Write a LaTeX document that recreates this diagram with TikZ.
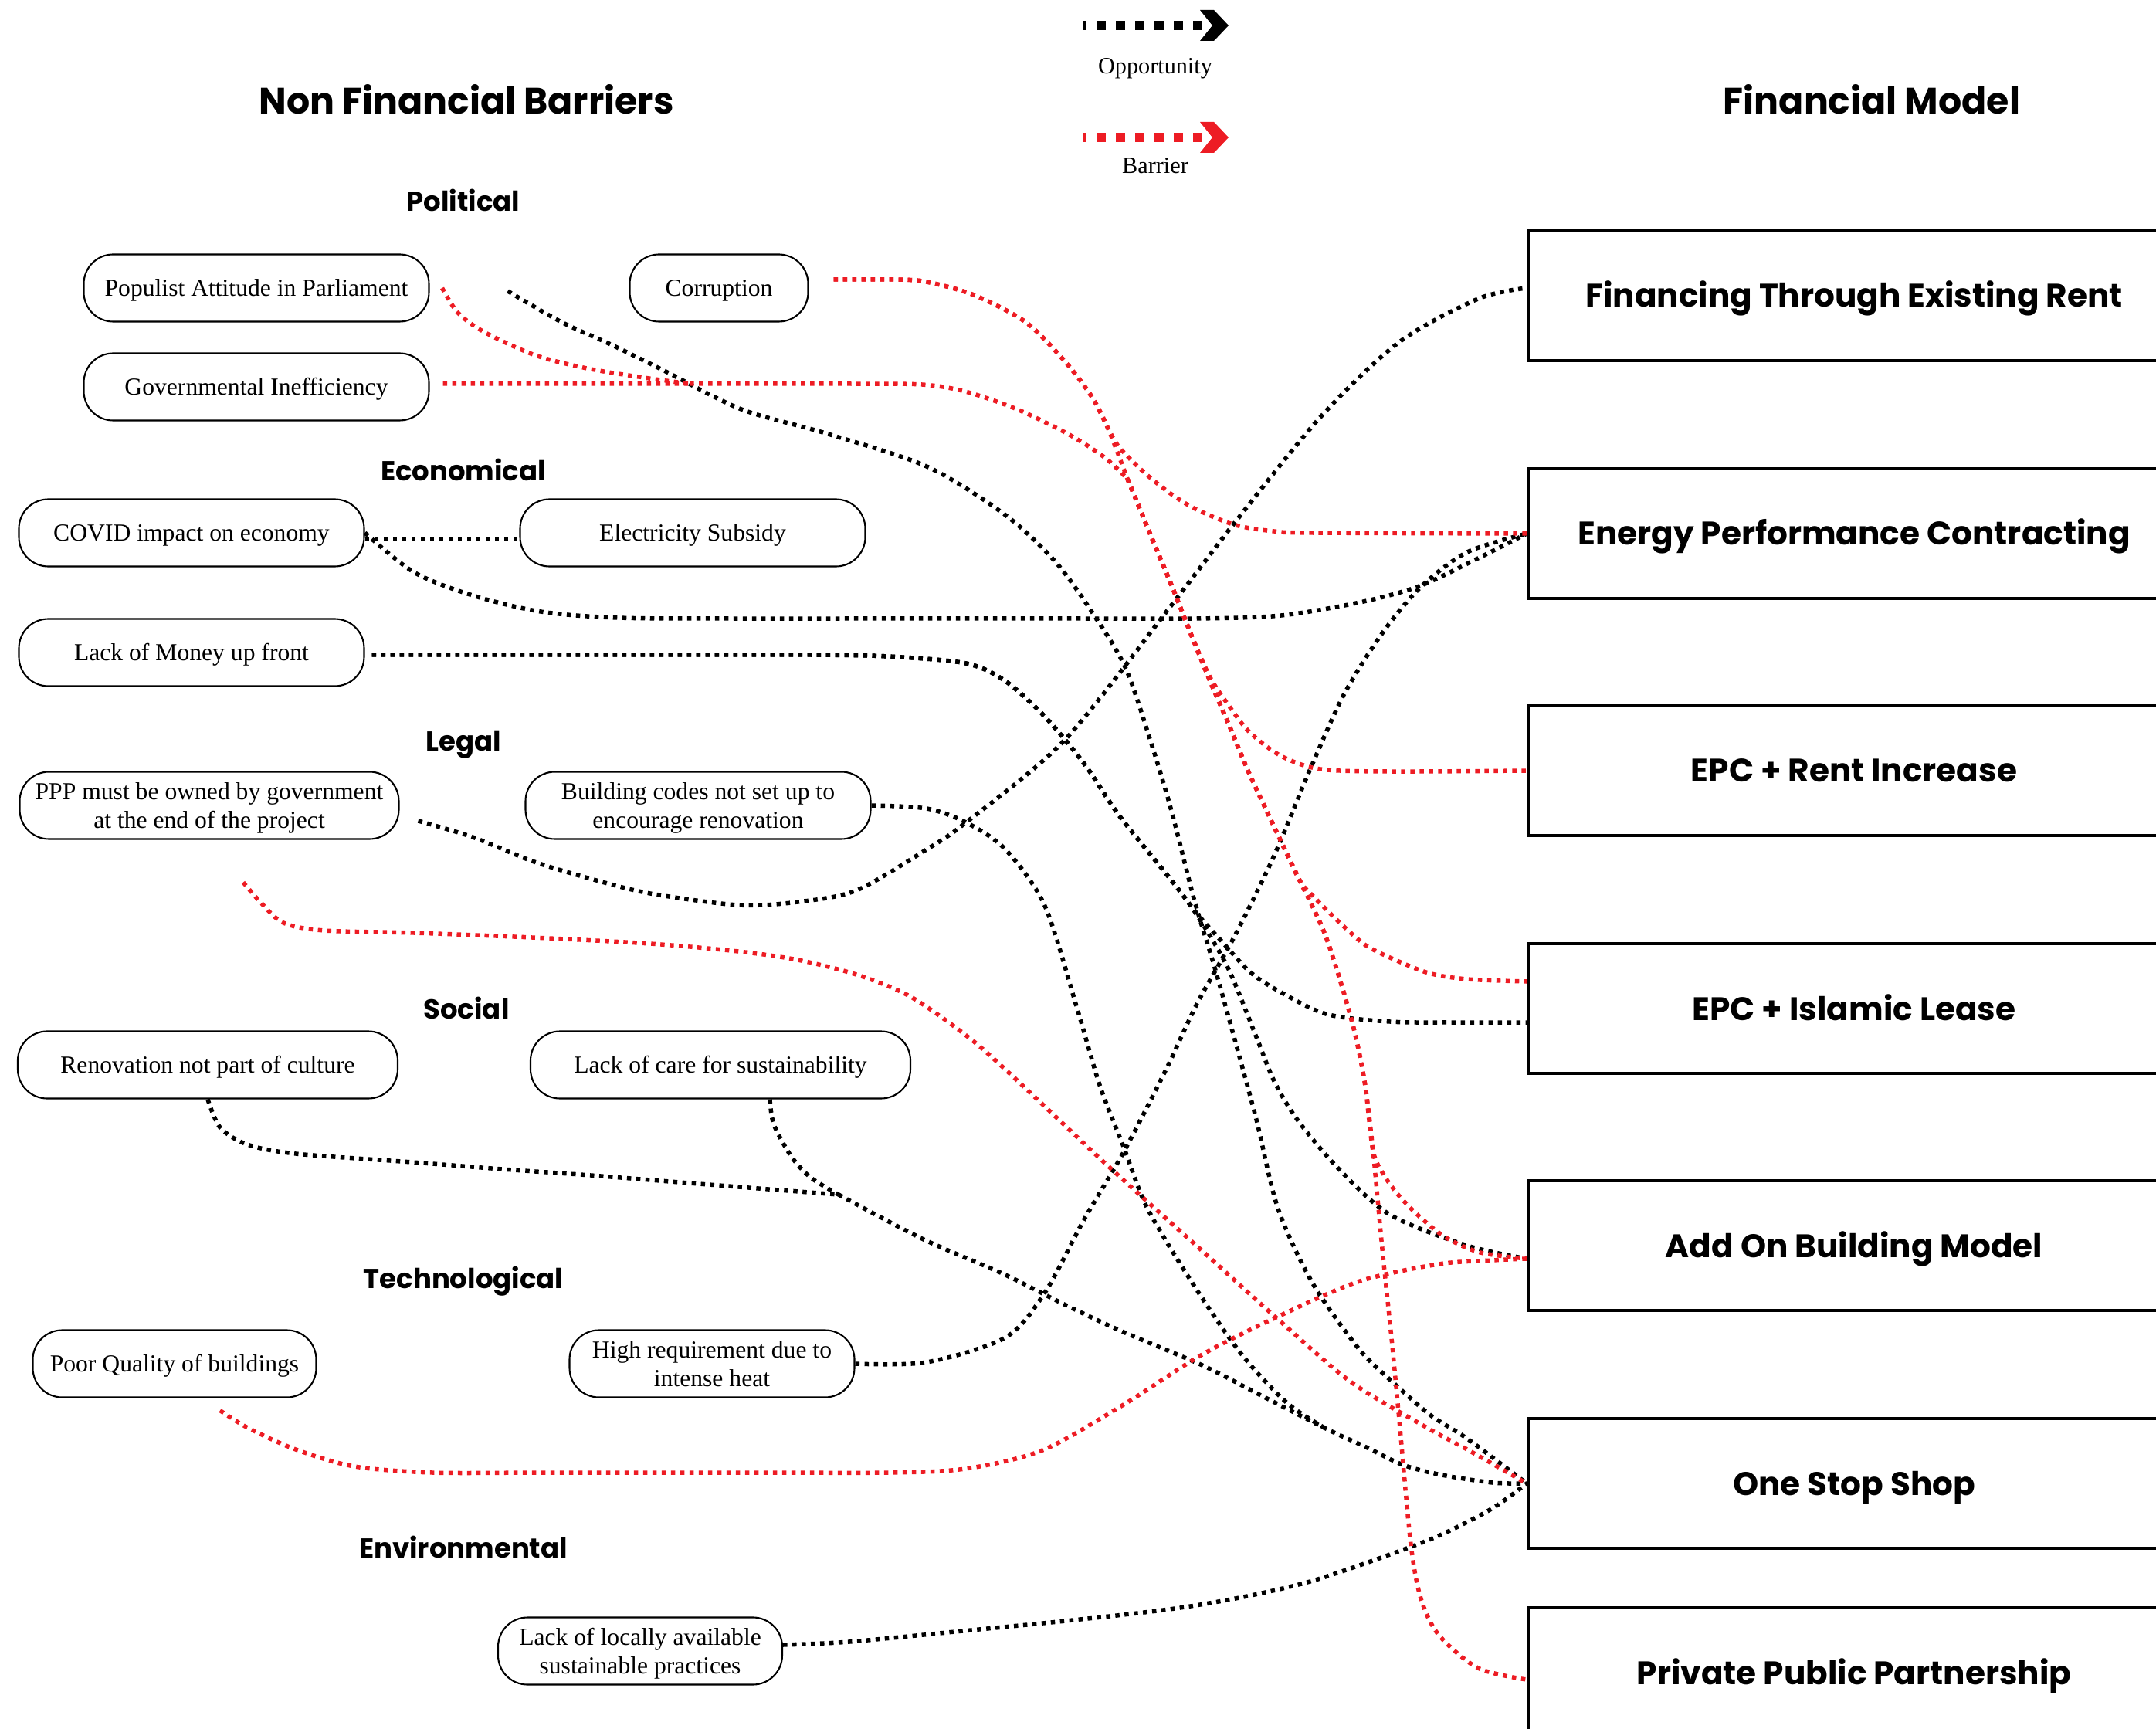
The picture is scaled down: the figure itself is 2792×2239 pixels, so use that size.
\documentclass[tikz,border=0pt]{standalone}
\usepackage{fontspec}
\setmainfont{Liberation Serif}
\newfontfamily\headfont{Poppins}
\usepackage{xcolor}
\definecolor{fmred}{RGB}{237,28,36}
\usetikzlibrary{positioning}

\begin{document}
\begin{tikzpicture}[x=0.1mm, y=-0.1mm,
  every node/.style={inner sep=0pt},
  cause/.style={draw, rounded corners=3.8mm, line width=0.6pt, minimum height=8.7mm, minimum width=#1, align=center, text depth=0pt, font=\fontsize{9}{10.5}\selectfont},
  oneline/.style={text height=2.1mm},
  model/.style={draw, line width=1.1pt, minimum width=84.4mm, minimum height=16.8mm, text height=3mm, text depth=0pt, font=\headfont\bfseries\fontsize{12}{14}\selectfont},
  barriergroup/.style={anchor=base, font=\headfont\bfseries\fontsize{10.1}{12}\selectfont},
  maintitle/.style={anchor=base, font=\headfont\bfseries\fontsize{13.5}{15}\selectfont},
  legendtext/.style={font=\fontsize{8.6}{10}\selectfont},
  opportunity/.style={draw=black, line width=0.55mm, dash pattern=on 0.55mm off 0.65mm},
  barrier/.style={draw=fmred, line width=0.55mm, dash pattern=on 0.55mm off 0.65mm},
  legendline/.style={line width=1.2mm, dash pattern=on 1.15mm off 1.35mm, dash phase=0.7mm}]

  \useasboundingbox (0,0) rectangle (2792,2239);
  \clip (0,0) rectangle (2792,2239);

  \node[maintitle] (nfb) at (604,148) {Non Financial Barriers};
  \node[maintitle] (fm) at (2424,148) {Financial Model};

  \coordinate (oppstart) at (1402,33);
  \coordinate (oppend) at (1556,33);
  \coordinate (oppmid) at (1496,33);
  \draw[legendline] (oppstart) -- (oppend);
  \fill (1554,13) -- (1572,13) -- (1591,33) -- (1572,53) -- (1554,53) -- (1570,33) -- cycle;
  \node[legendtext, below=4.2mm of oppmid] (opplabel) {Opportunity};

  \coordinate (barstart) at (1402,178);
  \coordinate (barend) at (1556,178);
  \coordinate (barmid) at (1496,178);
  \draw[legendline, fmred] (barstart) -- (barend);
  \fill[fmred] (1554,158) -- (1572,158) -- (1591,178) -- (1572,198) -- (1554,198) -- (1570,178) -- cycle;
  \node[legendtext, below=2.6mm of barmid] (barlabel) {Barrier};

  \node[barriergroup] (political) at (600,274) {Political};
  \node[cause=44.7mm, oneline] (populist) at (332,373) {Populist Attitude in Parliament};
  \node[cause=23.1mm, oneline] (corruption) at (931,373) {Corruption};
  \node[cause=44.7mm, oneline] (govineff) at (332,501) {Governmental Inefficiency};

  \node[barriergroup] (economical) at (600,623) {Economical};
  \node[cause=44.7mm, oneline] (covid) at (248,690) {COVID impact on economy};
  \node[cause=44.7mm, oneline] (subsidy) at (897,690) {Electricity Subsidy};
  \node[cause=44.7mm, oneline] (money) at (248,845) {Lack of Money up front};

  \node[barriergroup] (legal) at (600,972) {Legal};
  \node[cause=49.1mm] (pppown) at (271,1043) {PPP must be owned by government\\at the end of the project};
  \node[cause=44.7mm] (codes) at (904,1043) {Building codes not set up to\\encourage renovation};

  \node[barriergroup] (social) at (604,1319) {Social};
  \node[cause=49.2mm, oneline] (culture) at (269,1379) {Renovation not part of culture};
  \node[cause=49.2mm, oneline] (care) at (933,1379) {Lack of care for sustainability};

  \node[barriergroup] (technological) at (600,1668) {Technological};
  \node[cause=36.7mm, oneline] (quality) at (226,1766) {Poor Quality of buildings};
  \node[cause=36.9mm] (heat) at (922,1766) {High requirement due to\\intense heat};

  \node[barriergroup] (environmental) at (600,2017) {Environmental};
  \node[cause=36.8mm] (local) at (829,2138) {Lack of locally available\\sustainable practices};

  \node[model] (rent) at (2401,383) {Financing Through Existing Rent};
  \node[model] (epc) at (2401,691) {Energy Performance Contracting};
  \node[model] (epcrent) at (2401,998) {EPC + Rent Increase};
  \node[model] (epclease) at (2401,1306) {EPC + Islamic Lease};
  \node[model] (addon) at (2401,1613) {Add On Building Model};
  \node[model] (oss) at (2401,1921) {One Stop Shop};
  \node[model] (pppmodel) at (2401,2166) {Private Public Partnership};

  \coordinate (jgov) at (893,497);
  \coordinate (jsteep) at (1460,620);
  \coordinate (jcare) at (1086,1547);
  \coordinate (jcodes) at (1717,1850);

  \draw[opportunity] ([yshift=-0.8mm]covid.east) -- ([yshift=-0.8mm]subsidy.west);
  \draw[opportunity] plot[smooth, tension=0.5] coordinates {(covid.east) (536,741) (612,771) (700,792) (800,800) (950,801) (1100,801) (1250,801) (1400,801) (1550,801) (1659,797) (1761,780) (1838,759) (1914,723) (epc.west)};
  \draw[opportunity] plot[smooth, tension=0.5] coordinates {([xshift=0.9mm,yshift=-0.3mm]money.east) (600,848) (750,848) (900,848) (1050,848) (1150,850) (1251,859) (1302,882) (1353,928) (1404,989) (1450,1057) (1517,1140) (1550,1183) (1583,1220) (1617,1257) (1650,1280) (1717,1313) (1800,1323) (1880,1324) ([yshift=-1.8mm]epclease.west)};
  \draw[opportunity] plot[smooth, tension=0.5] coordinates {([xshift=0.9mm,yshift=-0.3mm]money.east) (600,848) (750,848) (900,848) (1050,848) (1150,850) (1251,859) (1302,882) (1353,928) (1404,989) (1450,1057) (1517,1140) (1550,1185) (1590,1253) (1627,1343) (1650,1400) (1680,1450) (1733,1513) (1800,1573) (1900,1613) ([yshift=-1.7mm]addon.west)};
  \draw[opportunity] plot[smooth, tension=0.5] coordinates {([xshift=10.1mm,yshift=-0.4mm]populist.east) (727,417) (793,447) (860,480) (960,530) (1069,561) (1200,604) (1302,667) (1368,729) (1419,800) (1458,866) (1491,963) (1517,1050) (1547,1167) (1573,1253) (1600,1350) (1627,1450) (1655,1565) (1700,1662) (1760,1747) (1807,1793) (1853,1833) (1900,1863) (oss.west)};
  \draw[opportunity] plot[smooth, tension=0.5] coordinates {(codes.east) (1200,1047) (1251,1065) (1302,1100) (1353,1173) (1394,1303) (1424,1405) (1455,1485) (1486,1565) (1547,1666) (1608,1754) (1667,1817) (jcodes)};
  \draw[opportunity] plot[smooth, tension=0.5] coordinates {([xshift=6.4mm]care.south) (1002,1456) (1025,1498) (1050,1525) (jcare)};
  \draw[opportunity] plot[smooth, tension=0.5] coordinates {(culture.south) (285,1460) (320,1482) (383,1494) (534,1505) (650,1514) (765,1522) (918,1534) (jcare)};
  \draw[opportunity] plot[smooth, tension=0.5] coordinates {(jcare) (1194,1604) (1300,1650) (1380,1690) (1455,1725) (1557,1768) (1633,1807) (jcodes) (1767,1873) (1817,1897) (1867,1910) (1933,1920) (oss.west)};
  \draw[opportunity] plot[smooth, tension=0.5] coordinates {(heat.east) (1200,1764) (1302,1732) (1353,1674) (1404,1579) (1455,1492) (1510,1385) (1550,1300) (1600,1210) (1650,1108) (1695,1000) (1740,900) (1790,820) (1840,760) (1900,715) (epc.west)};
  \draw[opportunity] plot[smooth, tension=0.5] coordinates {([xshift=2.4mm,yshift=-2mm]pppown.east) (612,1084) (689,1115) (765,1138) (842,1157) (956,1172) (1033,1168) (1109,1153) (1200,1100) (1251,1065) (1379,958) (1516,785) (1598,678) (1710,540) (1812,443) (1914,387) ([yshift=1mm]rent.west)};
  \draw[opportunity] plot[smooth, tension=0.5] coordinates {([yshift=0.8mm]local.east) (1100,2126) (1247,2112) (1380,2099) (1514,2084) (1610,2068) (1700,2047) (1800,2013) (1867,1987) (1933,1953) (oss.west)};

  \draw[barrier] plot[smooth, tension=0.5] coordinates {([xshift=3.2mm,yshift=1.1mm]corruption.east) (1160,362) (1200,365) (1261,382) (1328,417) (1379,468) (1414,514) (1435,555) (1450,580) (1483,613) (1517,640) (1550,660) (1600,680) (1650,688) (1700,690) (epc.west)};
  \draw[barrier] plot[smooth, tension=0.5] coordinates {([xshift=3.2mm,yshift=1.1mm]corruption.east) (1160,362) (1200,365) (1261,382) (1328,417) (1379,468) (1414,514) (1435,555) (jsteep)};
  \draw[barrier] ([xshift=1.7mm,yshift=0.4mm]govineff.east) -- (jgov);
  \draw[barrier] plot[smooth, tension=0.5] coordinates {([xshift=1.6mm]populist.east) (593,405) (627,430) (693,460) (760,477) (827,488) (jgov)};
  \draw[barrier] plot[smooth, tension=0.5] coordinates {(jgov) (1000,497) (1100,497) (1194,498) (1250,507) (1317,530) (1383,562) (1430,592) (jsteep)};
  \draw[barrier] plot[smooth, tension=0.5] coordinates {(jsteep) (1493,700) (1520,765) (1543,823) (1567,882) (1592,940) (1617,1000) (1653,1077) (1683,1140) (1717,1213) (1750,1320) (1767,1400) (1778,1490) (1790,1617) (1803,1743) (1813,1850) (1827,2000) (1840,2070) (1863,2117) (1914,2160) ([yshift=-0.9mm]pppmodel.west)};
  \draw[barrier] plot[smooth, tension=0.5] coordinates {(jsteep) (1493,700) (1520,765) (1543,823) (1567,882) (1592,940) (1617,1000) (1653,1077) (1683,1140) (1717,1213) (1750,1320) (1767,1400) (1778,1490) (1793,1523) (1813,1550) (1840,1577) (1873,1603) (1917,1622) ([yshift=-1.7mm]addon.west)};
  \draw[barrier] plot[smooth, tension=0.5] coordinates {(jsteep) (1493,700) (1520,765) (1543,823) (1567,877) (1590,912) (1618,948) (1659,979) (1710,996) (1800,999) (epcrent.west)};
  \draw[barrier] plot[smooth, tension=0.5] coordinates {(jsteep) (1493,700) (1520,765) (1543,823) (1567,882) (1592,940) (1617,1000) (1653,1077) (1683,1140) (1703,1163) (1733,1193) (1767,1223) (1800,1240) (1850,1260) (1900,1268) ([yshift=3.5mm]epclease.west)};
  \draw[barrier] plot[smooth, tension=0.5] coordinates {([xshift=4.4mm,yshift=-5.5mm]pppown.south) (337,1168) (367,1195) (420,1205) (536,1208) (689,1214) (842,1222) (956,1232) (1033,1243) (1109,1262) (1178,1290) (1250,1340) (1302,1385) (1435,1510) (1557,1620) (1659,1712) (1750,1790) (1850,1850) (1900,1877) (oss.west)};
  \draw[barrier] plot[smooth, tension=0.5] coordinates {([xshift=5.9mm,yshift=-1.6mm]quality.south) (321,1849) (383,1877) (459,1899) (560,1907) (700,1907) (850,1907) (1000,1907) (1150,1907) (1250,1902) (1350,1878) (1455,1819) (1557,1754) (1659,1703) (1761,1659) (1863,1637) (1933,1632) ([yshift=-1.7mm]addon.west)};

\end{tikzpicture}
\end{document}
